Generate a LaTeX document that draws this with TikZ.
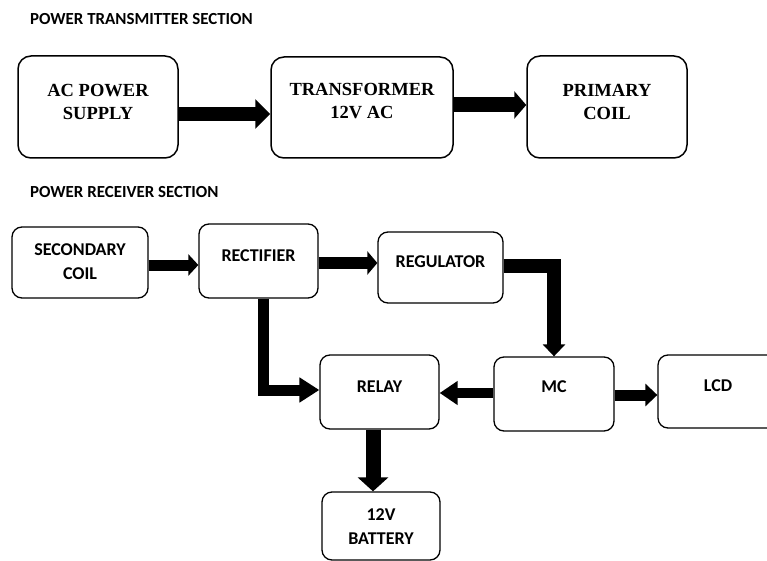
\documentclass[tikz,border=0pt]{standalone}
\usepackage{fontspec}
\setmainfont{Liberation Serif}
\newfontfamily\calfont{Carlito}
\usetikzlibrary{arrows.meta}
\tikzset{
  topbox/.style={draw, line width=1.5pt, rounded corners=13pt, inner sep=0pt},
  botbox/.style={draw, line width=1.3pt, rounded corners=10pt, inner sep=0pt},
  sertext/.style={font=\fontsize{18.5}{23}\selectfont\bfseries, align=center, inner sep=0pt},
  caltext/.style={font=\calfont\fontsize{18}{24}\selectfont\bfseries, align=center, inner sep=0pt},
  titletext/.style={font=\calfont\fontsize{16.9}{18}\selectfont\bfseries, anchor=west, inner sep=0pt},
  bigarrow/.style={line join=miter},
}
\begin{document}
\begin{tikzpicture}[x=1pt,y=-1pt]
\useasboundingbox[fill=white] (0,0) rectangle (767,561);
% titles
\node[titletext] (t1) at (30,19) {POWER TRANSMITTER SECTION};
\node[titletext] (t2) at (30,192) {POWER RECEIVER SECTION};
% transmitter boxes
\node[topbox, minimum width=160pt, minimum height=102pt] (ac) at (98,107) {};
\node[topbox, minimum width=182pt, minimum height=101pt] (tr) at (362,107.5) {};
\node[topbox, minimum width=160pt, minimum height=102pt] (pc) at (607,107) {};
\node[sertext] at (98,101.5) {AC POWER\\SUPPLY};
\node[sertext] at (362,101.5) {TRANSFORMER\\12V AC};
\node[sertext] at (607,101.5) {PRIMARY\\COIL};
% receiver boxes
\node[botbox, minimum width=136pt, minimum height=71pt] (sec) at (80,262.5) {};
\node[botbox, minimum width=119pt, minimum height=74pt] (rect) at (258.5,261) {};
\node[botbox, minimum width=125pt, minimum height=71pt] (reg) at (440.5,267.5) {};
\node[botbox, minimum width=119pt, minimum height=74pt] (relay) at (379.5,392) {};
\node[botbox, minimum width=120pt, minimum height=74pt] (mc) at (554,394) {};
\node[botbox, minimum width=130pt, minimum height=73pt] (lcd) at (723,391.5) {};
\node[botbox, minimum width=118pt, minimum height=68pt] (bat) at (381,526) {};
\node[caltext] at (80,261.5) {SECONDARY\\COIL};
\node[caltext] at (258.5,256) {RECTIFIER};
\node[caltext] at (440.5,262) {REGULATOR};
\node[caltext] at (379.5,386.5) {RELAY};
\node[caltext] at (554,387) {MC};
\node[caltext] at (718,386) {LCD};
\node[caltext] at (381,526.5) {12V\\BATTERY};
% arrows
\coordinate (a1) at ([yshift=-7pt]ac.east);
\draw[bigarrow, line width=14pt, -{Triangle[length=15pt,width=29pt]}] (a1) -- (a1 -| tr.west);
\coordinate (a2) at ([yshift=2.5pt]tr.east);
\draw[bigarrow, line width=15pt, -{Triangle[length=12pt,width=27pt]}] (a2) -- (a2 -| pc.west);
\coordinate (a3) at ([yshift=-2.5pt]sec.east);
\draw[bigarrow, line width=11pt, -{Triangle[length=10pt,width=21pt]}] (a3) -- (a3 -| rect.west);
\coordinate (a4) at ([yshift=-2pt]rect.east);
\draw[bigarrow, line width=12pt, -{Triangle[length=10pt,width=23pt]}] (a4) -- (a4 -| reg.west);
\coordinate (a5) at ([yshift=1.5pt]reg.east);
\draw[bigarrow, line width=14pt, -{Triangle[length=12pt,width=22pt]}] (a5) -| (mc.north);
\coordinate (a6) at ([yshift=1pt]mc.west);
\draw[bigarrow, line width=10pt, -{Triangle[length=18pt,width=23pt]}] (a6) -- (a6 -| relay.east);
\coordinate (a7) at ([yshift=-1pt]mc.east);
\draw[bigarrow, line width=11pt, -{Triangle[length=12pt,width=22pt]}] (a7) -- (a7 -| lcd.west);
\coordinate (a8) at ([xshift=4.5pt]rect.south);
\coordinate (a8e) at ([yshift=2pt]relay.west);
\draw[bigarrow, line width=11pt, -{Triangle[length=20pt,width=24pt]}] (a8) |- (a8e);
\coordinate (a9) at ([xshift=-6.5pt]relay.south);
\draw[bigarrow, line width=15pt, -{Triangle[length=14pt,width=30pt]}] (a9) -- (a9 |- bat.north);
\end{tikzpicture}
\end{document}
